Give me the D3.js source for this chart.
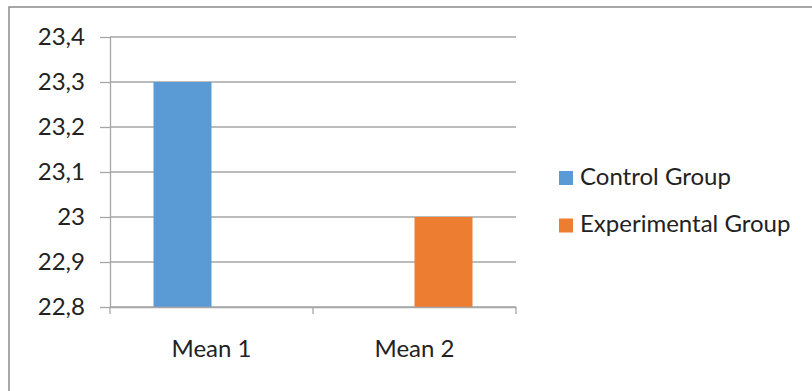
<!DOCTYPE html>
<html>
<head>
<meta charset="utf-8">
<script src="https://cdn.jsdelivr.net/npm/d3@7"></script>
<style>
  html, body { margin: 0; padding: 0; background: #fff; }
  svg { display: block; }
  text { font-family: Lato, "Open Sans", sans-serif; fill: #222; }
</style>
</head>
<body>
<svg id="chart" width="812" height="391"></svg>
<script>
// Chart data
const categories = ["Mean 1", "Mean 2"];
const seriesNames = ["Control Group", "Experimental Group"];
const controlValues = [23.3, null];
const experimentalValues = [null, 23.0];
const yTicks = [22.8, 22.9, 23.0, 23.1, 23.2, 23.3, 23.4];
const seriesColors = ["#5B9BD5", "#ED7D31"];

const series = [
  { name: seriesNames[0], values: controlValues, color: seriesColors[0] },
  { name: seriesNames[1], values: experimentalValues, color: seriesColors[1] }
];

const svg = d3.select("#chart");
const W = 812, H = 391;
const fontSize = "24px";

// Outer chart frame (runs off the right and bottom edges)
svg.append("rect")
  .attr("x", 9).attr("y", 7)
  .attr("width", W + 10).attr("height", H + 10)
  .attr("fill", "#fff")
  .attr("stroke", "#8c8c8c")
  .attr("stroke-width", 1.5);

const plot = { left: 110, right: 516, top: 37, bottom: 307 };

const x = d3.scaleBand()
  .domain(categories)
  .range([plot.left, plot.right])
  .paddingInner(0).paddingOuter(0);

const bw = x.bandwidth();
const xSub = d3.scaleBand()
  .domain(seriesNames)
  .range([bw * 0.2143, bw * 0.7857])
  .padding(0);

const y = d3.scaleLinear()
  .domain([yTicks[0], yTicks[yTicks.length - 1]])
  .range([plot.bottom, plot.top]);

const locale = d3.formatLocale({ decimal: ",", thousands: ".", grouping: [3], currency: ["", ""] });
const fmt = v => {
  const s = locale.format(".1f")(v);
  return s.endsWith(",0") ? s.slice(0, -2) : s;
};

const gridColor = "#a6a6a6";

// Horizontal gridlines
svg.append("g")
  .selectAll("line")
  .data(yTicks)
  .join("line")
  .attr("x1", plot.left).attr("x2", plot.right)
  .attr("y1", d => y(d)).attr("y2", d => y(d))
  .attr("stroke", gridColor)
  .attr("stroke-width", 1.3);

// Bars
series.forEach(s => {
  svg.append("g")
    .selectAll("rect")
    .data(categories.map((c, i) => ({ c, v: s.values[i] })).filter(d => d.v != null))
    .join("rect")
    .attr("x", d => x(d.c) + xSub(s.name))
    .attr("width", xSub.bandwidth())
    .attr("y", d => y(d.v))
    .attr("height", d => y(yTicks[0]) - y(d.v))
    .attr("fill", s.color);
});

// Y axis
const yAxis = svg.append("g")
  .attr("transform", `translate(${plot.left},0)`)
  .call(d3.axisLeft(y).tickValues(yTicks).tickFormat(fmt).tickSize(10).tickPadding(15));
yAxis.select(".domain").attr("stroke", gridColor).attr("stroke-width", 1.3)
  .attr("d", `M0.5,${plot.top}V${plot.bottom}`);
yAxis.selectAll(".tick line").attr("stroke", gridColor).attr("stroke-width", 1.3);
yAxis.selectAll(".tick text")
  .style("font-family", "Lato, 'Open Sans', sans-serif")
  .style("font-size", fontSize)
  .attr("fill", "#222");

// X axis
const xAxis = svg.append("g")
  .attr("transform", `translate(0,${plot.bottom})`)
  .call(d3.axisBottom(x).tickSize(0).tickPadding(33));
xAxis.select(".domain").attr("stroke", gridColor).attr("stroke-width", 1.3)
  .attr("d", `M${plot.left},0.5H${plot.right}`);
xAxis.selectAll(".tick text")
  .style("font-family", "Lato, 'Open Sans', sans-serif")
  .style("font-size", fontSize)
  .attr("fill", "#222");
// Category boundary tick marks
xAxis.append("g")
  .selectAll("line")
  .data(categories.map(c => x(c)).concat([plot.right]))
  .join("line")
  .attr("x1", d => d).attr("x2", d => d)
  .attr("y1", 0).attr("y2", 7)
  .attr("stroke", gridColor)
  .attr("stroke-width", 1.3);

// Legend
const legend = svg.append("g").attr("transform", "translate(559,171)");
const items = legend.selectAll("g")
  .data(series)
  .join("g")
  .attr("transform", (d, i) => `translate(0,${i * 47.5})`);
items.append("rect")
  .attr("width", 14).attr("height", 14)
  .attr("fill", d => d.color);
items.append("text")
  .attr("x", 21).attr("y", 5)
  .attr("dy", "0.36em")
  .style("font-size", fontSize)
  .text(d => d.name);
</script>
</body>
</html>
